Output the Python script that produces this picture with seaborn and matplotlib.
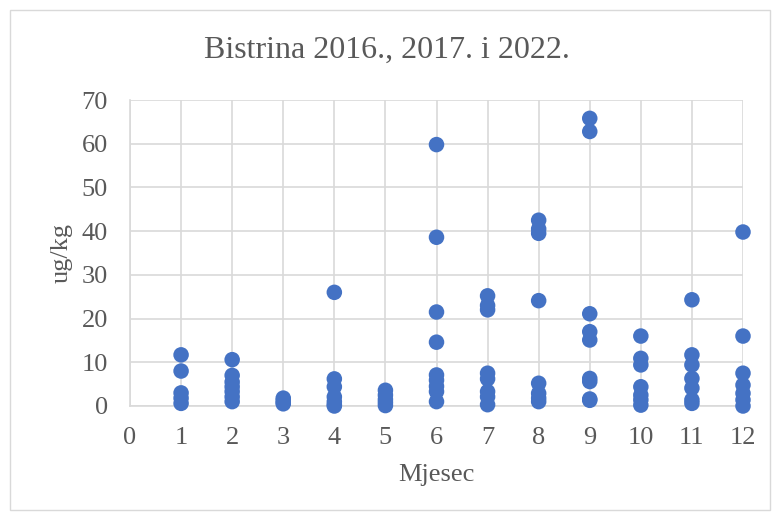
import pandas as pd
import seaborn as sns
import matplotlib.pyplot as plt
from matplotlib.patches import Rectangle

# values, per month
m1 = [11.7, 8.0, 3.0, 1.8, 0.6]
m2 = [10.6, 7.0, 5.5, 4.4, 3.3, 2.1, 1.0]
m3 = [1.8, 1.3, 0.8, 0.5]
m4 = [26.0, 6.2, 4.4, 2.1, 1.0, 0.3, 0.0]
m5 = [3.6, 2.5, 1.5, 0.8, 0.1]
m6 = [59.8, 38.6, 21.5, 14.6, 7.1, 5.9, 4.5, 3.3, 1.0]
m7 = [25.2, 23.0, 22.0, 7.5, 6.2, 3.3, 2.1, 0.3]
m8 = [42.5, 40.5, 39.5, 24.1, 5.2, 2.9, 1.8, 1.0]
m9 = [65.8, 62.8, 21.1, 17.0, 15.1, 6.3, 5.6, 1.6, 1.3]
m10 = [16.0, 10.9, 9.4, 4.4, 2.5, 1.4, 0.2]
m11 = [24.3, 11.7, 9.4, 6.3, 4.1, 1.4, 0.6]
m12 = [39.8, 16.0, 7.5, 4.8, 2.9, 1.4, 0.0]

months = [m1, m2, m3, m4, m5, m6, m7, m8, m9, m10, m11, m12]
rows = []
for i, vals in enumerate(months, start=1):
    for v in vals:
        rows.append({"Mjesec": i, "ug/kg": v})
df = pd.DataFrame(rows)

sns.set_theme(style="white")
plt.rcParams['font.family'] = ['Liberation Serif', 'DejaVu Serif']

fig = plt.figure(figsize=(7.73, 5.2), dpi=100)
ax = fig.add_axes([130/773, 1-406/520, (743-130)/773, (406-100)/520])

sns.scatterplot(data=df, x="Mjesec", y="ug/kg", ax=ax, color="#4472C4",
                s=125, edgecolor="none", zorder=3, clip_on=False)

ax.set_xlim(0, 12)
ax.set_ylim(0, 70)
ax.set_xticks(range(0, 13))
ax.set_yticks(range(0, 71, 10))
ax.grid(True, color="#D9D9D9", linewidth=1.2)
for s in ["top", "right"]:
    ax.spines[s].set_visible(False)
for s in ["left", "bottom"]:
    ax.spines[s].set_color("#D9D9D9")
    ax.spines[s].set_linewidth(1.2)
ax.tick_params(axis="both", length=0, labelsize=19, colors="#595959")
ax.tick_params(axis="x", pad=15)
ax.tick_params(axis="y", pad=16)
ax.set_xlabel("Mjesec", fontsize=19, color="#595959", labelpad=11)
ax.set_ylabel("ug/kg", fontsize=19, color="#595959", labelpad=6)
fig.text(0.5, 1-50/520, "Bistrina 2016., 2017. i 2022.", ha="center", va="center",
         fontsize=23, color="#595959")

fig.patches.append(Rectangle((10/773, 10/520), 760/773, 500/520, transform=fig.transFigure,
                             fill=False, edgecolor="#D9D9D9", linewidth=1))

fig.savefig("out.png", dpi=100)
